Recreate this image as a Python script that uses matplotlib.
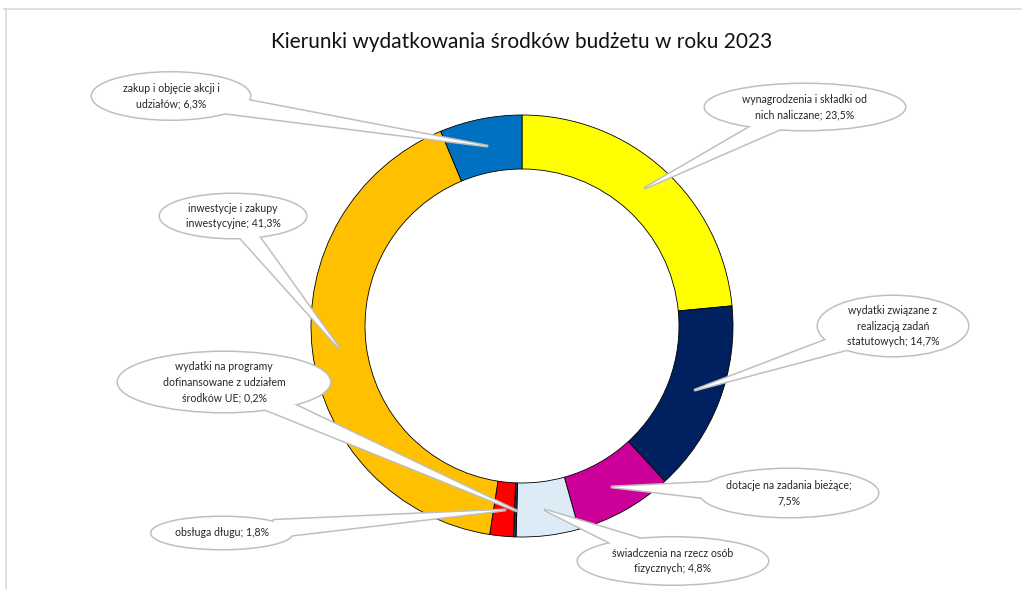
import textwrap

import numpy as np
import matplotlib
matplotlib.use("Agg")
import matplotlib.pyplot as plt
from matplotlib.patches import Ellipse, Polygon

plt.rcParams['font.family'] = ['Lato', 'DejaVu Sans']

# data
categories = ["wynagrodzenia i składki od nich naliczane",
              "wydatki związane z realizacją zadań statutowych",
              "dotacje na zadania bieżące",
              "świadczenia na rzecz osób fizycznych",
              "wydatki na programy dofinansowane z udziałem środków UE",
              "obsługa długu",
              "inwestycje i zakupy inwestycyjne",
              "zakup i objęcie akcji i udziałów"]
shares = [23.5, 14.7, 7.5, 4.8, 0.2, 1.8, 41.3, 6.3]
colors = ['#FFFF00', '#002060', '#CC0099', '#DDEBF7',
          '#1F3864', '#FF0000', '#FFC000', '#0070C0']
title = "Kierunki wydatkowania środków budżetu w roku 2023"

# layout (pixels, y measured from the top)
W, H = 1022, 589
center = (522, 326)
r_out, r_in = 211, 157
# ellipse centre, width, height, tail tip, wrap width
callouts = [
    ((805, 107), 200, 46, (645, 188), 26),
    ((893, 326), 150, 60, (695, 390), 19),
    ((789, 493), 178, 48, (612, 487), 27),
    ((673, 561), 190, 47, (545, 510), 25),
    ((224, 382), 212, 60, (517, 511), 24),
    ((222, 533), 141, 32, (505, 510), 30),
    ((233, 216), 146, 44, (339, 348), 19),
    ((171, 96), 158, 47, (487, 146), 23),
]
edge_col = '#BFBFBF'
text_col = '#262626'


def Y(y):
    return H - y


fig = plt.figure(figsize=(W / 100, H / 100), dpi=100)
ax = fig.add_axes([0, 0, 1, 1])

ax.pie(shares, colors=colors, startangle=90, counterclock=False,
       radius=r_out, center=(center[0], Y(center[1])),
       wedgeprops=dict(width=r_out - r_in, edgecolor='black', linewidth=0.6))

for i, (cat, val) in enumerate(zip(categories, shares)):
    (cx, cy), w, h, (tx, ty), wrap = callouts[i]
    label = textwrap.fill(f"{cat}; {val:.1f}%".replace('.', ','), width=wrap)

    # tail: triangle from the ellipse edge to the tip
    dx, dy = tx - cx, ty - cy
    t = 1 / np.hypot(dx / (w / 2), dy / (h / 2))
    L = np.hypot(dx, dy)
    ux, uy = dx / L, dy / L
    nx, ny = -uy, ux
    bx, by = cx + t * dx - 14 * ux, cy + t * dy - 14 * uy
    bw = 17
    tri = [(bx + nx * bw / 2, Y(by + ny * bw / 2)),
           (bx - nx * bw / 2, Y(by - ny * bw / 2)),
           (tx, Y(ty))]

    z = 3 + 3 * i
    ax.add_patch(Ellipse((cx, Y(cy)), w, h, fc='none', ec=edge_col, lw=2.2, zorder=z))
    ax.add_patch(Polygon(tri, closed=True, fc='none', ec=edge_col, lw=2.2,
                         joinstyle='round', zorder=z))
    ax.add_patch(Ellipse((cx, Y(cy)), w, h, fc='white', ec='none', zorder=z + 1))
    ax.add_patch(Polygon(tri, closed=True, fc='white', ec='none', zorder=z + 1))
    ax.text(cx, Y(cy), label, ha='center', va='center', fontsize=7.6,
            color=text_col, zorder=z + 2, linespacing=1.55)

ax.text(522, Y(42), title, ha='center', va='center', fontsize=15, color='#111111')

# chart area frame
ax.plot([4, W], [Y(8.5), Y(8.5)], color='#D9D9D9', lw=1.2)
ax.plot([6, 6], [Y(8.5), 0], color='#D9D9D9', lw=1.2)

ax.set_xlim(0, W)
ax.set_ylim(0, H)
ax.axis('off')

fig.savefig('out.png', dpi=100)
